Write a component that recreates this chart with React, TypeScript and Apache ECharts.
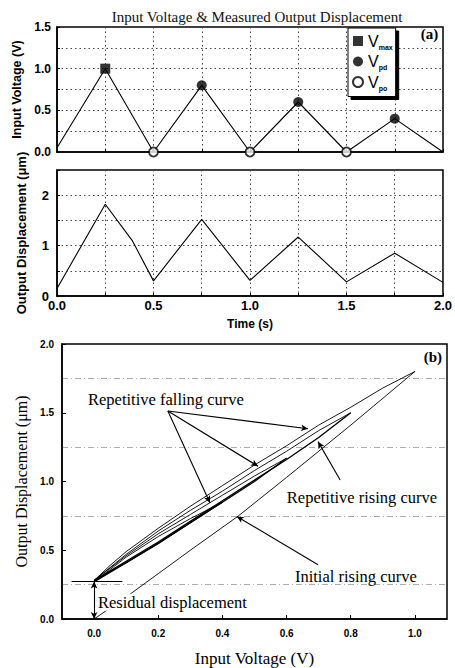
import React, { useEffect, useRef } from "react";
import * as echarts from "echarts";

// ---------- Panel (a): input voltage vs time ----------
const voltageTime = [0, 0.25, 0.5, 0.75, 1.0, 1.25, 1.5, 1.75, 2.0];
const voltageValues = [0.05, 1.0, 0, 0.8, 0, 0.6, 0, 0.4, 0];
const vMaxPoints = [[0.25, 1.0]];
const vPdPoints = [[0.75, 0.8], [1.25, 0.6], [1.75, 0.4]];
const vPoPoints = [[0.5, 0], [1.0, 0], [1.5, 0]];

// ---------- Panel (a): output displacement vs time ----------
const dispTime = [0, 0.25, 0.39, 0.5, 0.75, 1.0, 1.25, 1.5, 1.75, 2.0];
const dispValues = [0.15, 1.82, 1.1, 0.3, 1.52, 0.31, 1.17, 0.28, 0.85, 0.27];

// ---------- Panel (b): displacement vs voltage (hysteresis) ----------
const initialRise = [[0, 0], [0.1, 0.16], [0.2, 0.33], [0.3, 0.5], [0.45, 0.75], [0.6, 1.03], [0.8, 1.41], [1.0, 1.8]];
const fallFrom10 = [[1.0, 1.8], [0.9, 1.68], [0.8, 1.54], [0.7, 1.41], [0.6, 1.26], [0.5, 1.12], [0.4, 0.97], [0.3, 0.82], [0.2, 0.66], [0.1, 0.49], [0.05, 0.39], [0, 0.28]];
const riseTo08 = [[0, 0.28], [0.1, 0.42], [0.2, 0.56], [0.3, 0.71], [0.4, 0.86], [0.5, 1.01], [0.6, 1.16], [0.7, 1.32], [0.8, 1.5]];
const fallFrom08 = [[0.8, 1.5], [0.7, 1.37], [0.6, 1.22], [0.5, 1.08], [0.4, 0.93], [0.3, 0.79], [0.2, 0.64], [0.1, 0.47], [0, 0.28]];
const riseTo06 = [[0, 0.28], [0.1, 0.41], [0.2, 0.55], [0.3, 0.7], [0.4, 0.85], [0.5, 1.0], [0.6, 1.17]];
const fallFrom06 = [[0.6, 1.17], [0.5, 1.04], [0.4, 0.9], [0.3, 0.76], [0.2, 0.62], [0.1, 0.46], [0, 0.28]];
const riseTo04 = [[0, 0.27], [0.1, 0.41], [0.2, 0.55], [0.3, 0.7], [0.4, 0.85]];
const fallFrom04 = [[0.4, 0.85], [0.3, 0.73], [0.2, 0.6], [0.1, 0.45], [0, 0.27]];

const voltageTicksB = [0, 0.2, 0.4, 0.6, 0.8, 1.0];

const sans = "Liberation Sans";
const serif = "Liberation Serif";

const zip = (xs: number[], ys: number[]) => xs.map((x, i) => [x, ys[i]]);

const dotted = { color: "#444", width: 1, type: [1.5, 3] as any };
const tickIn = { show: true, inside: true, length: 3, lineStyle: { color: "#000" } };
const axisLineStyle = { onZero: false, lineStyle: { color: "#000", width: 1.5 } };

export default function App() {
  const ref = useRef<HTMLDivElement>(null);
  useEffect(() => {
    if (!ref.current) return;
    const chart = echarts.init(ref.current, undefined, { renderer: "svg" });
    const thin = { color: "#000", width: 0.9 };
    const hyst = (name: string, data: number[][], extra: any = {}) => ({
      name,
      type: "line",
      xAxisIndex: 2,
      yAxisIndex: 2,
      data,
      symbol: "none",
      lineStyle: thin,
      silent: true,
      ...extra,
    });
    const arrowEnd = (a: number[], b: number[]) => [
      { coord: a, symbol: "none" },
      { coord: b, symbol: "arrow", symbolSize: [5, 7] },
    ];
    const plainLine = (a: number[], b: number[]) => [
      { coord: a, symbol: "none" },
      { coord: b, symbol: "none" },
    ];
    const option: any = {
      animation: false,
      backgroundColor: "#fff",
      title: {
        text: "Input Voltage & Measured Output Displacement",
        left: 252,
        top: 4,
        textAlign: "center",
        textStyle: { fontFamily: serif, fontSize: 15, fontWeight: "normal", color: "#111" },
      },
      legend: {
        data: ["Vmax", "Vpd", "Vpo"],
        orient: "vertical",
        left: 348,
        top: 28,
        itemWidth: 10,
        itemHeight: 10,
        itemGap: 3,
        padding: [5, 3, 5, 4],
        backgroundColor: "#fff",
        borderColor: "#000",
        borderWidth: 1,
        shadowColor: "#000",
        shadowOffsetX: 3,
        shadowOffsetY: 3,
        shadowBlur: 0.01,
        formatter: (name: string) => `{v|V}{s|${name.slice(1)}}`,
        textStyle: {
          rich: {
            v: { fontFamily: sans, fontSize: 16, color: "#000", lineHeight: 20 },
            s: { fontFamily: sans, fontSize: 7, fontWeight: "bold", color: "#000", padding: [12, 0, 0, 0] },
          },
        },
      },
      grid: [
        { left: 57, top: 27, width: 386, height: 125, show: true, borderColor: "#000", borderWidth: 1.5 },
        { left: 57, top: 170, width: 386, height: 126, show: true, borderColor: "#000", borderWidth: 1.5 },
        { left: 62, top: 344, width: 385, height: 279, show: true, borderColor: "#000", borderWidth: 1.5 },
      ],
      xAxis: [
        {
          gridIndex: 0, type: "value", min: 0, max: 2, interval: 0.25,
          axisLabel: { show: false }, axisTick: tickIn,
          axisLine: axisLineStyle,
          splitLine: { show: true, lineStyle: dotted },
        },
        {
          gridIndex: 1, type: "value", min: 0, max: 2, interval: 0.25,
          axisLabel: {
            formatter: (v: number) => (Math.abs(v * 2 - Math.round(v * 2)) < 1e-6 ? v.toFixed(1) : ""),
            fontFamily: sans, fontWeight: "bold", fontSize: 13, color: "#000", margin: 3,
          },
          axisTick: tickIn,
          axisLine: axisLineStyle,
          splitLine: { show: true, lineStyle: dotted },
          name: "Time (s)", nameLocation: "middle", nameGap: 22,
          nameTextStyle: { fontFamily: sans, fontWeight: "bold", fontSize: 12, color: "#000" },
        },
        {
          gridIndex: 2, type: "value", min: -0.1, max: 1.1,
          axisLabel: {
            customValues: voltageTicksB,
            formatter: (v: number) => v.toFixed(1),
            fontFamily: sans, fontWeight: "bold", fontSize: 10, color: "#000", margin: 9,
          },
          axisTick: { show: true, inside: true, length: 4, customValues: voltageTicksB, lineStyle: { color: "#000" } },
          axisLine: axisLineStyle,
          splitLine: { show: false },
          name: "Input Voltage (V)", nameLocation: "middle", nameGap: 31,
          nameTextStyle: { fontFamily: serif, fontSize: 17, color: "#000" },
        },
      ],
      yAxis: [
        {
          gridIndex: 0, type: "value", min: 0, max: 1.5, interval: 0.25,
          axisLabel: {
            formatter: (v: number) => (Math.abs(v * 2 - Math.round(v * 2)) < 1e-6 ? v.toFixed(1) : ""),
            fontFamily: sans, fontWeight: "bold", fontSize: 12, color: "#000", margin: 6,
          },
          axisTick: tickIn,
          axisLine: axisLineStyle,
          splitLine: { show: true, lineStyle: dotted },
          name: "Input Voltage (V)", nameLocation: "middle", nameGap: 34, nameRotate: 90,
          nameTextStyle: { fontFamily: sans, fontWeight: "bold", fontSize: 12.5, color: "#000" },
        },
        {
          gridIndex: 1, type: "value", min: 0, max: 2.5, interval: 0.5,
          axisLabel: {
            formatter: (v: number) => (Math.abs(v - Math.round(v)) < 1e-6 ? String(Math.round(v)) : ""),
            fontFamily: sans, fontWeight: "bold", fontSize: 13, color: "#000", margin: 8,
          },
          axisTick: tickIn,
          axisLine: axisLineStyle,
          splitLine: { show: true, lineStyle: dotted },
          name: "Output Displacement (μm)", nameLocation: "middle", nameGap: 29, nameRotate: 90,
          nameTextStyle: { fontFamily: sans, fontWeight: "bold", fontSize: 13, color: "#000" },
        },
        {
          gridIndex: 2, type: "value", min: 0, max: 2, interval: 0.5,
          axisLabel: {
            formatter: (v: number) => v.toFixed(1),
            fontFamily: sans, fontWeight: "bold", fontSize: 10, color: "#000", margin: 8,
          },
          axisTick: { show: true, inside: true, length: 4, lineStyle: { color: "#000" } },
          minorTick: { show: false, splitNumber: 2 },
          axisLine: axisLineStyle,
          splitLine: { show: false },
          minorSplitLine: { show: true, lineStyle: { color: "#999", width: 0.8, type: [6, 3, 1, 3] } },
          name: "Output Displacement (μm)", nameLocation: "middle", nameGap: 26, nameRotate: 90,
          nameTextStyle: { fontFamily: serif, fontSize: 16, color: "#000" },
        },
      ],
      series: [
        {
          name: "voltage", type: "line", xAxisIndex: 0, yAxisIndex: 0,
          data: zip(voltageTime, voltageValues), symbol: "none",
          lineStyle: { color: "#000", width: 1.1 },
          markPoint: {
            symbol: "circle", symbolSize: 0.1, silent: true,
            data: [
              {
                coord: [1.93, 1.42],
                label: { show: true, position: "inside", formatter: "(a)", fontFamily: serif, fontWeight: "bold", fontSize: 15, color: "#000" },
              },
            ],
          },
        },
        {
          name: "Vmax", type: "scatter", xAxisIndex: 0, yAxisIndex: 0, z: 5,
          data: vMaxPoints, symbol: "rect", symbolSize: 10, itemStyle: { color: "#000" },
        },
        {
          name: "Vpd", type: "scatter", xAxisIndex: 0, yAxisIndex: 0, z: 5,
          data: vPdPoints, symbol: "circle", symbolSize: 10, itemStyle: { color: "#000" },
        },
        {
          name: "Vpo", type: "scatter", xAxisIndex: 0, yAxisIndex: 0, z: 5,
          data: vPoPoints, symbol: "circle", symbolSize: 9,
          itemStyle: { color: "#fff", borderColor: "#000", borderWidth: 1.8 },
        },
        {
          name: "displacement", type: "line", xAxisIndex: 1, yAxisIndex: 1,
          data: zip(dispTime, dispValues), symbol: "none",
          lineStyle: { color: "#000", width: 1.1 },
        },
        hyst("initialRise", initialRise, {
          markLine: {
            silent: true,
            label: { show: false },
            lineStyle: { color: "#000", width: 1.1, type: "solid" },
            data: [
              arrowEnd([0.23, 1.513], [0.667, 1.384]),
              arrowEnd([0.23, 1.513], [0.511, 1.111]),
              arrowEnd([0.23, 1.513], [0.361, 0.846]),
              arrowEnd([0.767, 1.011], [0.698, 1.29]),
              arrowEnd([0.698, 0.394], [0.445, 0.746]),
              [
                { coord: [0, 0], symbol: "arrow", symbolSize: [5, 7] },
                { coord: [0, 0.272], symbol: "arrow", symbolSize: [5, 7] },
              ],
              plainLine([-0.07, 0.272], [0.088, 0.272]),
            ],
          },
          markPoint: {
            symbol: "circle", symbolSize: 0.1, silent: true,
            z: 10,
            label: { show: true, fontFamily: serif, fontSize: 16.5, color: "#000" },
            data: [
              { coord: [-0.019, 1.599], label: { position: "right", distance: 0, formatter: "Repetitive falling curve" } },
              { coord: [0.835, 0.882], label: { position: "inside", formatter: "Repetitive rising curve" } },
              { coord: [0.816, 0.308], label: { position: "inside", formatter: "Initial rising curve" } },
              { coord: [0.009, 0.122], label: { position: "right", distance: 0, formatter: "Residual displacement", backgroundColor: "#fff", padding: [0, 1, 0, 1] } },
              { coord: [1.056, 1.907], label: { position: "inside", formatter: "(b)", fontWeight: "bold", fontSize: 15 } },
            ],
          },
        }),
        hyst("fallFrom10", fallFrom10),
        hyst("riseTo08", riseTo08, { lineStyle: { color: "#000", width: 1.4 } }),
        hyst("fallFrom08", fallFrom08),
        hyst("riseTo06", riseTo06, { lineStyle: { color: "#000", width: 1.2 } }),
        hyst("fallFrom06", fallFrom06),
        hyst("riseTo04", riseTo04, { lineStyle: { color: "#000", width: 1.2 } }),
        hyst("fallFrom04", fallFrom04),
      ],
    };
    chart.setOption(option);
    return () => chart.dispose();
  }, []);
  return (
    <div
      ref={ref}
      style={{ position: "fixed", left: 0, top: 0, width: 455, height: 668, background: "#fff" }}
    />
  );
}
